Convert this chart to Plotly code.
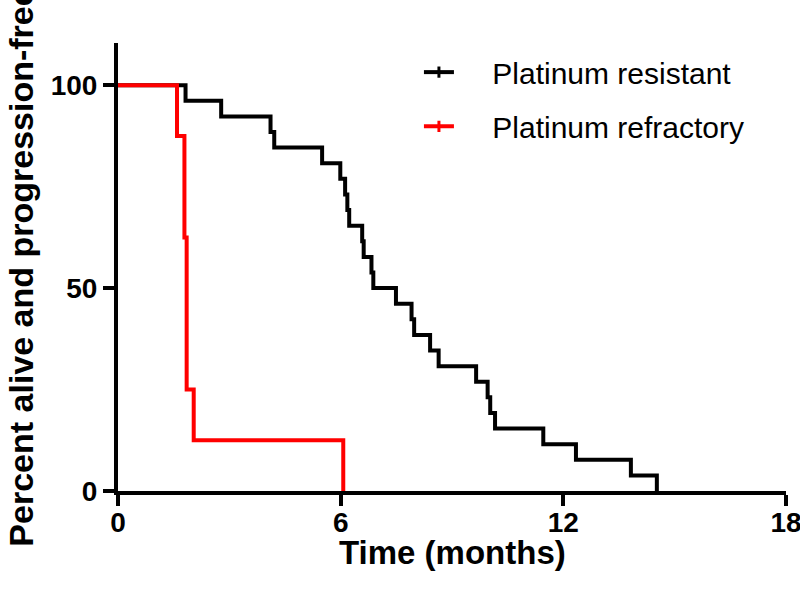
import plotly.graph_objects as go

# Kaplan-Meier step data (months, percent)
resistant_time = [0, 1.82, 2.78, 4.11, 4.21, 5.50, 5.99, 6.12, 6.18, 6.23, 6.58, 6.62,
                  6.83, 6.88, 7.49, 7.91, 7.98, 8.41, 8.64, 9.65, 9.96, 10.03, 10.16,
                  11.46, 12.34, 13.82, 14.52]
resistant_pct = [100, 96.15, 92.31, 88.46, 84.62, 80.77, 76.92, 73.08, 69.23, 65.38,
                 61.54, 57.69, 53.85, 50.0, 46.15, 42.31, 38.46, 34.62, 30.77, 26.92,
                 23.08, 19.23, 15.38, 11.54, 7.69, 3.85, 0]

refractory_time = [0, 1.59, 1.79, 1.85, 2.04, 6.07]
refractory_pct = [100, 87.5, 62.5, 25.0, 12.5, 0]

x_ticks = [0, 6, 12, 18]
y_ticks = [0, 50, 100]

names = ["Platinum resistant", "Platinum refractory"]
colors = ["#000000", "#ff0000"]
x_title = "Time (months)"
y_title = "Percent alive and progression-free"

FONT = "Liberation Sans, Arial, sans-serif"

fig = go.Figure()
fig.add_trace(go.Scatter(x=resistant_time, y=resistant_pct, mode="lines",
                         line=dict(shape="hv", color=colors[0], width=4),
                         showlegend=False))
fig.add_trace(go.Scatter(x=refractory_time, y=refractory_pct, mode="lines",
                         line=dict(shape="hv", color=colors[1], width=4),
                         showlegend=False))
# legend entries
for i, (nm, c) in enumerate(zip(names, colors)):
    fig.add_trace(go.Scatter(x=[None], y=[None], mode="lines+markers",
                             name="\u00a0\u00a0\u00a0\u00a0" + nm,
                             line=dict(color=c, width=4),
                             marker=dict(symbol="line-ns", size=8, color=c,
                                         line=dict(color=c, width=3)),
                             legend="legend" if i == 0 else "legend2"))

legend_font = dict(family=FONT, size=30, color="black")
common_leg = dict(font=legend_font, bgcolor="rgba(0,0,0,0)", borderwidth=0,
                  xanchor="left", yanchor="middle")

axis_common = dict(showgrid=False, zeroline=False, showline=True, linecolor="black",
                   linewidth=4, ticks="outside", ticklen=11, tickwidth=4,
                   tickcolor="black", automargin=False, ticklabeloverflow="allow",
                   tickfont=dict(size=28, family=FONT, weight="bold", color="black"))

fig.update_layout(
    width=800, height=596,
    margin=dict(l=118, r=14, t=43, b=105, pad=0),
    paper_bgcolor="white", plot_bgcolor="white",
    font=dict(family=FONT, color="black"),
    xaxis=dict(range=[0, 18], tickvals=x_ticks, ticktext=[str(v) for v in x_ticks],
               ticklabelstandoff=-8, **axis_common),
    yaxis=dict(range=[0, 110.4], tickvals=y_ticks, ticktext=[str(v) for v in y_ticks],
               title=dict(text=y_title,
                          font=dict(size=34, family=FONT, weight="bold"), standoff=8),
               **axis_common),
    legend=dict(x=0.4505, y=0.935, **common_leg),
    legend2=dict(x=0.4505, y=0.814, **common_leg),
    annotations=[dict(text=x_title, xref="paper", yref="paper", x=0.5, y=-0.137,
                      xanchor="center", yanchor="middle", showarrow=False,
                      font=dict(size=33, family=FONT, weight="bold", color="black"))],
)

fig.write_html("out.html",
               config={"displayModeBar": False},
               post_script="document.body.style.margin='0';document.body.style.overflow='hidden';")
